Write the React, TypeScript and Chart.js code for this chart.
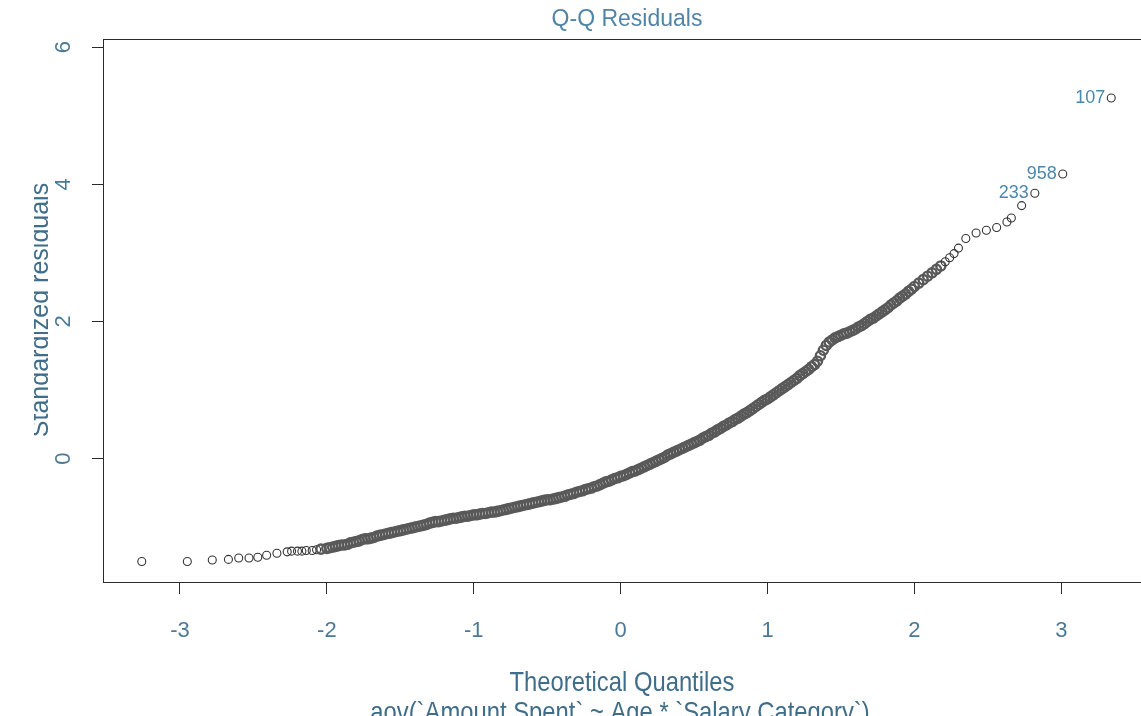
import React, { useEffect, useRef } from "react";
import { Chart, registerables } from "chart.js";

Chart.register(...registerables);

// Theoretical quantiles (x) and standardized residuals (y)
const qqX: number[] = [
  -3.26, -2.95, -2.78, -2.67, -2.6, -2.53, -2.47, -2.41, -2.34, -2.27, -2.24, -2.2, -2.17, -2.14, -2.1, -2.07, -2.04,
  -2.0, -1.98, -1.96, -1.94, -1.92, -1.9, -1.88, -1.86, -1.84, -1.82, -1.8, -1.78, -1.76, -1.74, -1.72, -1.7,
  -1.68, -1.66, -1.64, -1.62, -1.6, -1.58, -1.56, -1.54, -1.52, -1.5, -1.48, -1.46, -1.44, -1.42, -1.4, -1.38,
  -1.36, -1.34, -1.32, -1.3, -1.28, -1.26, -1.24, -1.22, -1.2, -1.18, -1.16, -1.14, -1.12, -1.1, -1.08, -1.06,
  -1.04, -1.02, -1.0, -0.98, -0.96, -0.94, -0.92, -0.9, -0.88, -0.86, -0.84, -0.82, -0.8, -0.78, -0.76, -0.74,
  -0.72, -0.7, -0.68, -0.66, -0.64, -0.62, -0.6, -0.58, -0.56, -0.54, -0.52, -0.5, -0.48, -0.46, -0.44, -0.42,
  -0.4, -0.38, -0.36, -0.34, -0.32, -0.3, -0.28, -0.26, -0.24, -0.22, -0.2, -0.18, -0.16, -0.14, -0.12, -0.1,
  -0.08, -0.06, -0.04, -0.02, 0.0, 0.02, 0.04, 0.06, 0.08, 0.1, 0.12, 0.14, 0.16, 0.18, 0.2, 0.22,
  0.24, 0.26, 0.28, 0.3, 0.32, 0.34, 0.36, 0.38, 0.4, 0.42, 0.44, 0.46, 0.48, 0.5, 0.52, 0.54,
  0.56, 0.58, 0.6, 0.62, 0.64, 0.66, 0.68, 0.7, 0.72, 0.74, 0.76, 0.78, 0.8, 0.82, 0.84, 0.86,
  0.88, 0.9, 0.92, 0.94, 0.96, 0.98, 1.0, 1.02, 1.04, 1.06, 1.08, 1.1, 1.12, 1.14, 1.16, 1.18,
  1.2, 1.22, 1.24, 1.26, 1.28, 1.3, 1.32, 1.34, 1.36, 1.38, 1.4, 1.42, 1.44, 1.46, 1.48, 1.5,
  1.52, 1.54, 1.56, 1.58, 1.6, 1.62, 1.64, 1.66, 1.68, 1.7, 1.72, 1.74, 1.76, 1.78, 1.8, 1.82,
  1.84, 1.86, 1.88, 1.9, 1.92, 1.94, 1.96, 1.98, 2.0,
  2.03, 2.06, 2.09, 2.12, 2.15, 2.18, 2.21, 2.24, 2.27, 2.3, 2.35, 2.42, 2.49, 2.56, 2.63, 2.66, 2.73,
  2.82, 3.01, 3.34,
];

const qqY: number[] = [
  -1.5, -1.5, -1.48, -1.47, -1.45, -1.45, -1.44, -1.41, -1.38, -1.36, -1.35, -1.35, -1.35, -1.34, -1.34, -1.33, -1.32,
  -1.31, -1.3, -1.29, -1.28, -1.27, -1.26, -1.26, -1.25, -1.23, -1.22, -1.21, -1.2, -1.18, -1.17, -1.17, -1.16,
  -1.15, -1.13, -1.12, -1.11, -1.1, -1.09, -1.08, -1.07, -1.06, -1.05, -1.04, -1.03, -1.02, -1.01, -1.0, -0.99,
  -0.98, -0.97, -0.96, -0.94, -0.93, -0.92, -0.92, -0.91, -0.9, -0.89, -0.88, -0.87, -0.87, -0.86, -0.85, -0.84,
  -0.84, -0.83, -0.82, -0.82, -0.81, -0.8, -0.8, -0.79, -0.78, -0.78, -0.77, -0.76, -0.75, -0.74, -0.73, -0.72,
  -0.71, -0.7, -0.69, -0.68, -0.67, -0.66, -0.65, -0.64, -0.63, -0.62, -0.61, -0.6, -0.6, -0.59, -0.58, -0.57,
  -0.56, -0.55, -0.53, -0.52, -0.51, -0.49, -0.48, -0.47, -0.45, -0.44, -0.43, -0.41, -0.4, -0.38, -0.36, -0.34,
  -0.33, -0.31, -0.29, -0.28, -0.26, -0.25, -0.23, -0.21, -0.19, -0.18, -0.16, -0.14, -0.12, -0.1, -0.08, -0.06,
  -0.04, -0.02, 0.0, 0.02, 0.05, 0.07, 0.09, 0.11, 0.13, 0.15, 0.17, 0.19, 0.21, 0.23, 0.25, 0.27,
  0.3, 0.32, 0.34, 0.37, 0.39, 0.42, 0.44, 0.47, 0.49, 0.52, 0.54, 0.57, 0.59, 0.62, 0.65, 0.67,
  0.7, 0.73, 0.76, 0.79, 0.82, 0.85, 0.87, 0.9, 0.93, 0.96, 0.99, 1.02, 1.05, 1.08, 1.11, 1.14,
  1.17, 1.21, 1.24, 1.27, 1.3, 1.34, 1.37, 1.42, 1.5, 1.58, 1.65, 1.7, 1.73, 1.76, 1.78, 1.8,
  1.82, 1.83, 1.85, 1.87, 1.89, 1.92, 1.94, 1.97, 2.0, 2.03, 2.05, 2.08, 2.11, 2.14, 2.17, 2.2,
  2.24, 2.27, 2.3, 2.34, 2.37, 2.4, 2.44, 2.47, 2.51,
  2.56, 2.61, 2.66, 2.71, 2.76, 2.81, 2.87, 2.93, 2.99, 3.07, 3.21, 3.29, 3.33, 3.37, 3.45, 3.51, 3.69,
  3.87, 4.15, 5.26,
];

// Observation ids labelled by R (last three points)
const outlierIds: string[] = ["233", "958", "107"];

const titleText = "Q-Q Residuals";
const xTitle = "Theoretical Quantiles";
const yTitle = "Standardized residuals";
const subTitle = "aov(`Amount Spent` ~ Age * `Salary Category`)";

const FONT = '"Liberation Sans", Arial, Helvetica, sans-serif';
const AXIS_COLOR = "#2b2b2b";
const TICK_COLOR = "#4c7a96";
const LABEL_COLOR = "#3f6d8a";
const TITLE_COLOR = "#5185a7";
const ID_COLOR = "#4a88ad";
const CANVAS_W = 1160;
const CANVAS_H = 716;

const decorPlugin = {
  id: "rDecor",
  afterDraw(chart: any) {
    const { ctx, chartArea: a, scales } = chart;
    const xs = scales.x;
    const ys = scales.y;
    ctx.save();
    // plot box
    ctx.strokeStyle = AXIS_COLOR;
    ctx.lineWidth = 1;
    ctx.strokeRect(Math.round(a.left) + 0.5, Math.round(a.top) + 0.5, a.right - a.left, a.bottom - a.top);

    // x tick labels
    ctx.fillStyle = TICK_COLOR;
    ctx.font = `22px ${FONT}`;
    ctx.textAlign = "center";
    ctx.textBaseline = "middle";
    xs.ticks.forEach((t: any) => {
      ctx.fillText(String(t.value), xs.getPixelForValue(t.value), 631);
    });
    // y tick labels (rotated like R las=0)
    ys.ticks.forEach((t: any) => {
      const py = ys.getPixelForValue(t.value);
      ctx.save();
      ctx.translate(64, py);
      ctx.rotate(-Math.PI / 2);
      ctx.fillText(String(t.value), 0, 0);
      ctx.restore();
    });

    // title
    ctx.fillStyle = TITLE_COLOR;
    ctx.font = `23px ${FONT}`;
    ctx.textBaseline = "alphabetic";
    ctx.fillText(titleText, 627, 26);

    // x title and subtitle (slightly condensed)
    ctx.fillStyle = LABEL_COLOR;
    ctx.font = `28px ${FONT}`;
    ctx.save();
    ctx.translate(622, 691);
    ctx.scale(0.85, 1);
    ctx.fillText(xTitle, 0, 0);
    ctx.restore();
    ctx.save();
    ctx.translate(620, 721);
    ctx.scale(0.85, 1);
    ctx.fillText(subTitle, 0, 0);
    ctx.restore();

    // y title, clipped at its top like the source
    ctx.save();
    ctx.beginPath();
    ctx.rect(34, 0, 200, CANVAS_H);
    ctx.clip();
    ctx.font = `25px ${FONT}`;
    ctx.translate(48, 310);
    ctx.rotate(-Math.PI / 2);
    ctx.fillText(yTitle, 0, 0);
    ctx.restore();

    // outlier id labels
    ctx.fillStyle = ID_COLOR;
    ctx.font = `18px ${FONT}`;
    ctx.textAlign = "right";
    ctx.textBaseline = "middle";
    const n = qqX.length;
    outlierIds.forEach((id, k) => {
      const i = n - outlierIds.length + k;
      const px = xs.getPixelForValue(qqX[i]);
      const py = ys.getPixelForValue(qqY[i]);
      ctx.fillText(id, px - 6, py);
    });
    ctx.restore();
  },
};

// the dense middle of the sample shows as a thick, overlapping band
const isDense = (i: number) => qqX[i] > -2.05 && qqX[i] < 2.2;

export default function App() {
  const ref = useRef<HTMLCanvasElement | null>(null);

  useEffect(() => {
    if (!ref.current) return;
    const points = qqX.map((x, i) => ({ x, y: qqY[i] }));
    const chart = new Chart(ref.current, {
      type: "scatter",
      data: {
        datasets: [
          {
            data: points,
            pointStyle: "circle",
            pointRadius: (c: any) => (isDense(c.dataIndex) ? 4.6 : 4),
            pointBorderWidth: (c: any) => (isDense(c.dataIndex) ? 2.4 : 1.1),
            pointBorderColor: (c: any) => (isDense(c.dataIndex) ? "#595959" : "#333333"),
            backgroundColor: "rgba(0,0,0,0)",
            showLine: false,
          },
        ],
      },
      options: {
        responsive: false,
        animation: false,
        layout: { padding: { top: 39, right: 10, left: 0, bottom: 0 } },
        plugins: {
          legend: { display: false },
          tooltip: { enabled: false },
          title: { display: false },
        },
        scales: {
          x: {
            type: "linear",
            min: -3.524,
            max: 3.604,
            afterFit: (s: any) => {
              s.height = 134;
            },
            ticks: { stepSize: 1, includeBounds: false, display: false },
            grid: { drawOnChartArea: false, drawTicks: true, tickLength: 12, color: AXIS_COLOR, lineWidth: 1 },
            border: { display: false },
          },
          y: {
            type: "linear",
            min: -1.8,
            max: 6.12,
            afterFit: (s: any) => {
              s.width = 103;
            },
            ticks: { stepSize: 2, includeBounds: false, display: false },
            grid: { drawOnChartArea: false, drawTicks: true, tickLength: 11, color: AXIS_COLOR, lineWidth: 1 },
            border: { display: false },
          },
        },
      },
      plugins: [decorPlugin],
    });
    return () => chart.destroy();
  }, []);

  return (
    <div
      style={{
        position: "fixed",
        left: 0,
        top: 0,
        width: CANVAS_W,
        height: CANVAS_H,
        overflow: "hidden",
        background: "#ffffff",
      }}
    >
      <canvas ref={ref} width={CANVAS_W} height={CANVAS_H} style={{ display: "block" }} />
    </div>
  );
}
